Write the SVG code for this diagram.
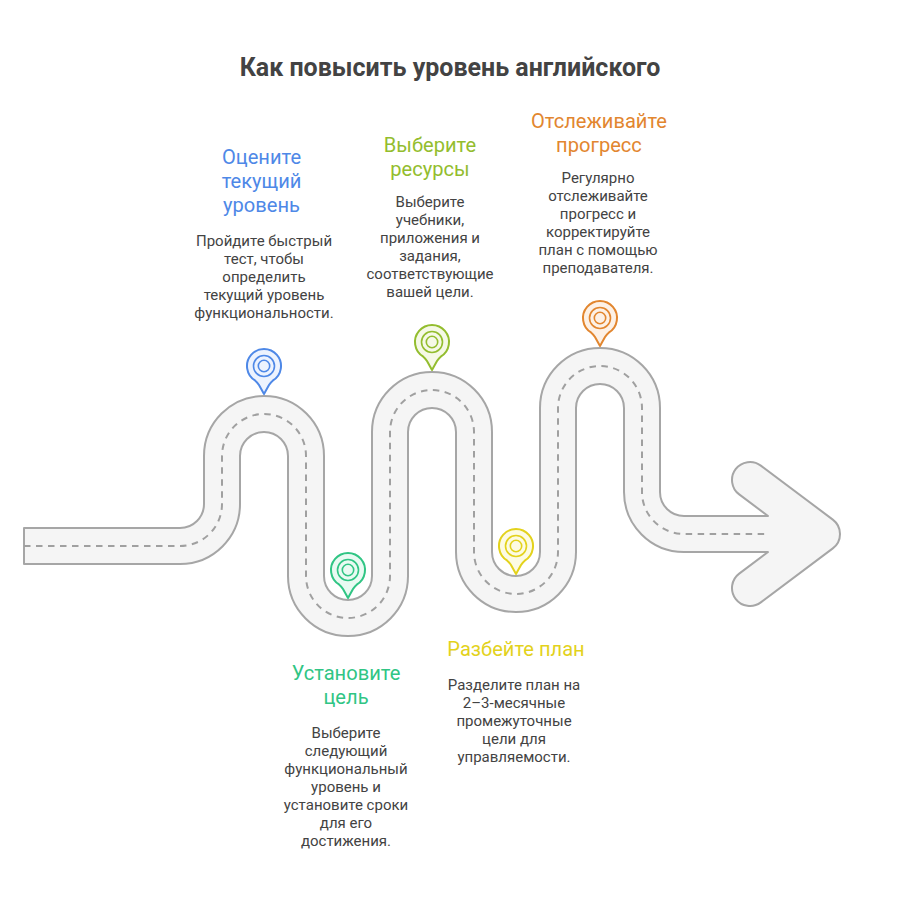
<svg xmlns="http://www.w3.org/2000/svg" width="900" height="900" viewBox="0 0 900 900">
<style>
text{font-family:Roboto,"Liberation Sans",sans-serif;text-anchor:middle}
.t{font-size:25px;font-weight:700;fill:#434343}
.h{font-size:20.100px}
.b{font-size:15px;fill:#434343}
.p{stroke-width:2;stroke-linejoin:round}
.r{stroke-width:1.600;fill:none}
.road{fill:#f5f5f5;stroke:#a6a6a6;stroke-width:2;stroke-linejoin:round}
.dash{fill:none;stroke:#a0a0a0;stroke-width:2;stroke-dasharray:6.500 5.500}
</style>
<defs>
<g id="pin">
<path class="p" d="M-9 14.400A17 17 0 1 1 9 14.400Q6.500 16.500 5 19L0 28L-5 19Q-6.500 16.500-9 14.400Z"/>
<circle class="r" r="10.500"/>
<circle class="r" r="5.700"/>
</g>
</defs>
<rect width="900" height="900" fill="#fff"/>
<text class="t" x="450" y="76">Как повысить уровень английского</text>
<g id="connectors">
<path class="road" d="M24 528H180A24 24 0 0 0 204 504V456A60 60 0 0 1 324 456V576A24 24 0 0 0 372 576V432A60 60 0 0 1 492 432V552A24 24 0 0 0 540 552V408A60 60 0 0 1 660 408V492A24 24 0 0 0 684 516H768L739.200 494.400A18 18 0 0 1 760.800 465.600L832.800 519.600A18 18 0 0 1 832.800 548.400L760.800 602.400A18 18 0 0 1 739.200 573.600L768 552H684A60 60 0 0 1 624 492V408A24 24 0 0 0 576 408V552A60 60 0 0 1 456 552V432A24 24 0 0 0 408 432V576A60 60 0 0 1 288 576V456A24 24 0 0 0 240 456V504A60 60 0 0 1 180 564H24Z"/>
<path class="dash" d="M24 546H180A42 42 0 0 0 222 504V456A42 42 0 0 1 306 456V576A42 42 0 0 0 390 576V432A42 42 0 0 1 474 432V552A42 42 0 0 0 558 552V408A42 42 0 0 1 642 408V492A42 42 0 0 0 684 534H765"/>
</g>
<g id="node-1">
<use href="#pin" x="264" y="366" fill="#edf3fe" stroke="#4e88e7"/>
<g fill="#4e88e7"><text class="h" x="261.500" y="164">Оцените</text><text class="h" x="261.500" y="188">текущий</text><text class="h" x="261.500" y="212">уровень</text></g>
<text class="b" x="264" y="246">Пройдите быстрый</text><text class="b" x="264" y="264">тест, чтобы</text><text class="b" x="264" y="282">определить</text><text class="b" x="264" y="300">текущий уровень</text><text class="b" x="264" y="318">функциональности.</text>
</g>
<g id="node-2">
<use href="#pin" x="348" y="570" fill="#e9faf2" stroke="#30c584"/>
<g fill="#30c584"><text class="h" x="346" y="680">Установите</text><text class="h" x="346" y="704">цель</text></g>
<text class="b" x="346" y="738">Выберите</text><text class="b" x="346" y="756">следующий</text><text class="b" x="346" y="774">функциональный</text><text class="b" x="346" y="792">уровень и</text><text class="b" x="346" y="810">установите сроки</text><text class="b" x="346" y="828">для его</text><text class="b" x="346" y="846">достижения.</text>
</g>
<g id="node-3">
<use href="#pin" x="432" y="342" fill="#f5f9e6" stroke="#93bd2e"/>
<g fill="#93bd2e"><text class="h" x="430" y="152">Выберите</text><text class="h" x="430" y="176">ресурсы</text></g>
<text class="b" x="430" y="207">Выберите</text><text class="b" x="430" y="225">учебники,</text><text class="b" x="430" y="243">приложения и</text><text class="b" x="430" y="261">задания,</text><text class="b" x="430" y="279">соответствующие</text><text class="b" x="430" y="297">вашей цели.</text>
</g>
<g id="node-4">
<use href="#pin" x="516" y="546" fill="#fdfbe3" stroke="#e3d21c"/>
<text class="h" x="516" y="656" fill="#e3d21c">Разбейте план</text>
<text class="b" x="514" y="690">Разделите план на</text><text class="b" x="514" y="708">2–3-месячные</text><text class="b" x="514" y="726">промежуточные</text><text class="b" x="514" y="744">цели для</text><text class="b" x="514" y="762">управляемости.</text>
</g>
<g id="node-5">
<use href="#pin" x="600" y="318" fill="#fdf1e6" stroke="#e2862f"/>
<g fill="#e2862f"><text class="h" x="599" y="128">Отслеживайте</text><text class="h" x="599" y="152">прогресс</text></g>
<text class="b" x="598" y="183">Регулярно</text><text class="b" x="598" y="201">отслеживайте</text><text class="b" x="598" y="219">прогресс и</text><text class="b" x="598" y="237">корректируйте</text><text class="b" x="598" y="255">план с помощью</text><text class="b" x="598" y="273">преподавателя.</text>
</g>
</svg>
